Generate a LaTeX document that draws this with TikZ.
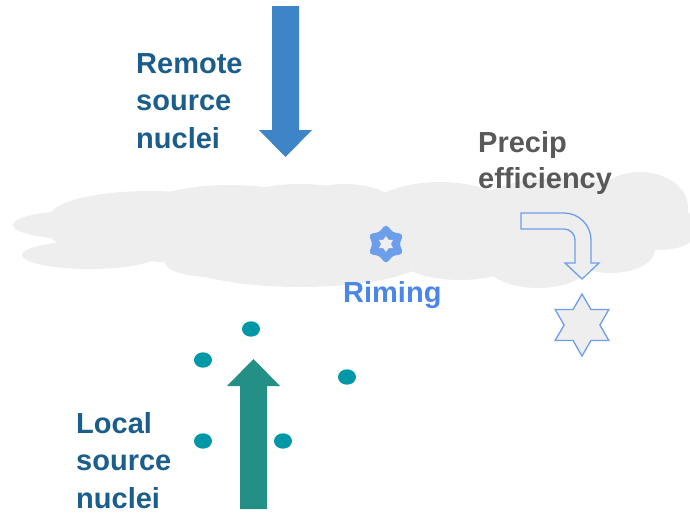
\documentclass[tikz,border=0pt]{standalone}
\usepackage{fontspec}
\setmainfont{Liberation Sans}
\definecolor{cloudgray}{HTML}{EEEEEE}
\definecolor{remoteblue}{HTML}{3D85C6}
\definecolor{labelblue}{HTML}{1C5E8B}
\definecolor{precipgray}{HTML}{595959}
\definecolor{rimeblue}{HTML}{4A86E8}
\definecolor{starblue}{HTML}{6D9EEB}
\definecolor{localgreen}{HTML}{248F84}
\definecolor{dotteal}{HTML}{0097A7}
\tikzset{
  lbl/.style={font=\bfseries\fontsize{29}{37.5}\selectfont, align=left, inner sep=0pt, anchor=base west},
  cloud/.style={fill=cloudgray},
  nucleus/.style={fill=dotteal},
  pics/hexa/.style 2 args={code={
    \path[pic actions] (90:#1) -- (120:#2) -- (150:#1) -- (180:#2) -- (210:#1) -- (240:#2)
      -- (270:#1) -- (300:#2) -- (330:#1) -- (0:#2) -- (30:#1) -- (60:#2) -- cycle;}}
}
\begin{document}
\begin{tikzpicture}[x=1pt,y=-1pt]
\useasboundingbox (0,0) rectangle (690,512);
% cloud
\begin{scope}
\fill[cloud] (75,225) ellipse [x radius=62, y radius=14];
\fill[cloud] (90,255) ellipse [x radius=68, y radius=14];
\fill[cloud] (150,216) ellipse [x radius=100, y radius=25];
\fill[cloud] (230,212) ellipse [x radius=90, y radius=27];
\fill[cloud] (300,211) ellipse [x radius=75, y radius=27];
\fill[cloud] (345,211) ellipse [x radius=55, y radius=27];
\fill[cloud] (440,216) ellipse [x radius=75, y radius=34];
\fill[cloud] (560,212) ellipse [x radius=90, y radius=34];
\fill[cloud] (640,207) ellipse [x radius=48, y radius=35];
\fill[cloud] (660,228) ellipse [x radius=40, y radius=22];
\fill[cloud] (300,255) ellipse [x radius=130, y radius=32];
\fill[cloud] (210,262) ellipse [x radius=45, y radius=15];
\fill[cloud] (460,258) ellipse [x radius=60, y radius=22];
\fill[cloud] (538,260) ellipse [x radius=55, y radius=28];
\fill[cloud] (610,250) ellipse [x radius=45, y radius=23];
\fill[cloud] (350,235) ellipse [x radius=300, y radius=35];
\end{scope}
% remote arrow
\fill[remoteblue] (272,6) -- (299,6) -- (299,130) -- (312,130) -- (285.5,157) -- (259,130) -- (272,130) -- cycle;
% local arrow
\fill[localgreen] (240,509) -- (267,509) -- (267,386) -- (280,386) -- (253.5,359) -- (227,386) -- (240,386) -- cycle;
% nuclei dots
\fill[nucleus] (251,329) ellipse [x radius=9, y radius=7.7];
\fill[nucleus] (203,360) ellipse [x radius=9, y radius=7.7];
\fill[nucleus] (347,377) ellipse [x radius=9, y radius=7.7];
\fill[nucleus] (203,441) ellipse [x radius=9, y radius=7.7];
\fill[nucleus] (283,441) ellipse [x radius=9, y radius=7.7];
% riming star
\pic[fill=starblue, draw=starblue, line width=2pt, rounded corners=3pt] at (386,244) {hexa={18.5}{12.5}};
\pic[fill=cloudgray] at (386,244) {hexa={8}{5}};
% falling star
\pic[fill=cloudgray, draw=starblue, line width=1.3pt, line join=miter] at (582,325) {hexa={31}{17.9}};
% bent arrow
\draw[starblue, line width=1.3pt] (521,213) -- (564,213)
  .. controls (578.9,213) and (591,225.1) .. (591,240)
  -- (591,263) -- (599,263) -- (582,279) -- (565,263) -- (575,263) -- (575,240)
  .. controls (575,233.9) and (570.1,229) .. (564,229)
  -- (521,229) -- cycle;
% labels (base anchor = baseline of the last line)
\node[lbl, text=labelblue] (remote) at (136,148) {Remote\\source\\nuclei};
\node[lbl, text=labelblue] (local) at (76,508) {Local\\source\\nuclei};
\node[lbl, text=precipgray, font=\bfseries\fontsize{29}{36}\selectfont] (precip) at (478,188) {Precip\\efficiency};
\node[lbl, text=rimeblue] (riming) at (343,302) {Riming};
\end{tikzpicture}
\end{document}
